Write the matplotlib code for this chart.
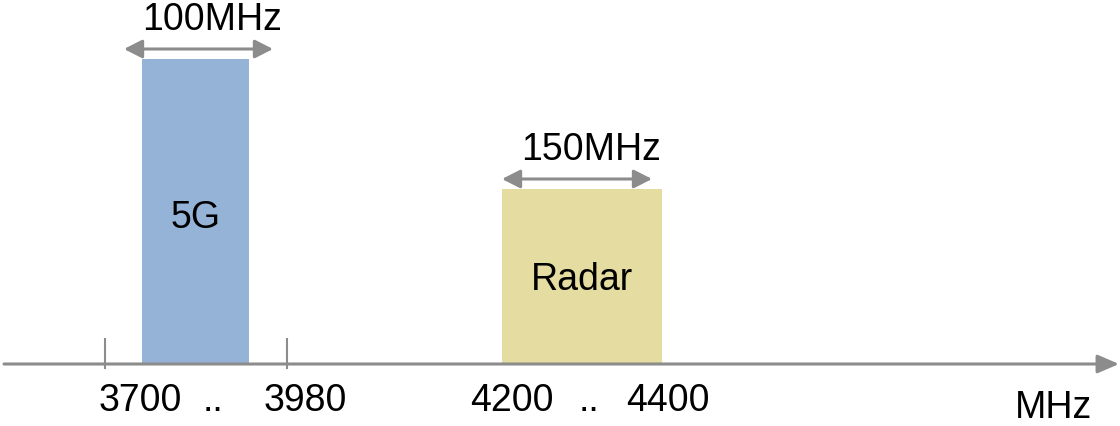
import matplotlib.pyplot as plt

plt.rcParams['font.family'] = ['Liberation Sans', 'DejaVu Sans']

# Schematic spectrum (axis units are arbitrary, roughly one per pixel)
bands = ['5G', 'Radar']
band_left = [142, 502]
band_right = [249, 662]
band_height = [305, 175]
band_colors = ['#95b3d7', '#e4dca0']
band_widths = ['100MHz', '150MHz']
width_arrow_left = [124, 502]
width_arrow_right = [273, 652]

tick_pos = [105, 287]
freq_labels = ['3700', '..', '3980', '4200', '..', '4400']
freq_label_pos = [140, 213, 305, 512, 589, 668]

baseline = 62
gray = '#8c8c8c'

fig = plt.figure(figsize=(11.2, 4.26), dpi=100)
ax = fig.add_axes([0, 0, 1, 1])
ax.set_xlim(0, 1120)
ax.set_ylim(0, 426)
ax.axis('off')

# frequency axis with arrow
ax.annotate('', xy=(1119, baseline), xytext=(4, baseline),
            arrowprops=dict(arrowstyle='-|>,head_length=0.65,head_width=0.28',
                            mutation_scale=20, color=gray, lw=2.2,
                            shrinkA=0, shrinkB=0))
for t in tick_pos:
    ax.plot([t, t], [baseline - 4, baseline + 25], color=gray, lw=1.5)

# bands
for name, l, r, h, c, wl, al, ar in zip(bands, band_left, band_right, band_height,
                                        band_colors, band_widths,
                                        width_arrow_left, width_arrow_right):
    ax.bar(l, h, width=r - l, bottom=baseline, align='edge', color=c, zorder=1)
    mid = (l + r) / 2
    ax.text(mid, baseline + h * 0.48, name, ha='center', va='center', fontsize=27)
    top = baseline + h
    ax.annotate('', xy=(al, top + 10), xytext=(ar, top + 10),
                arrowprops=dict(arrowstyle='<|-|>,head_length=0.55,head_width=0.28',
                                mutation_scale=20, color=gray, lw=2.2,
                                shrinkA=0, shrinkB=0))
    ax.text((al + ar) / 2 + 14, top + 21, wl, ha='center', va='bottom', fontsize=27)

for lab, x in zip(freq_labels, freq_label_pos):
    ax.text(x, 25, lab, ha='center', va='center', fontsize=27)

ax.text(1053, 18, 'MHz', ha='center', va='center', fontsize=27)

fig.savefig('out.png', dpi=100)
